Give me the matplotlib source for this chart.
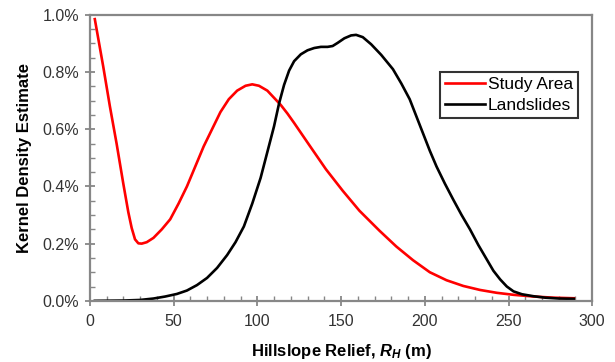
import matplotlib
matplotlib.use("Agg")
import matplotlib.pyplot as plt
from matplotlib.ticker import MultipleLocator, FuncFormatter

plt.rcParams['font.family'] = ['Liberation Sans', 'DejaVu Sans']
plt.rcParams['mathtext.fontset'] = 'custom'
plt.rcParams['mathtext.rm'] = 'Liberation Sans:bold'
plt.rcParams['mathtext.it'] = 'Liberation Sans:bold:italic'
plt.rcParams['mathtext.bf'] = 'Liberation Sans:bold'

# Study Area KDE (x in m, y in %)
study_x = [3, 8, 12, 16, 20, 23, 25, 27, 29, 31, 34, 38, 43, 48, 53, 58, 63, 68, 73, 78,
           83, 88, 93, 97, 101, 106, 110, 114, 118, 122, 131, 141, 151, 161, 173, 183,
           193, 203, 213, 223, 233, 243, 253, 265, 277, 289]
study_y = [0.985, 0.82, 0.68, 0.55, 0.41, 0.31, 0.255, 0.215, 0.201, 0.200, 0.205, 0.22,
           0.25, 0.285, 0.34, 0.40, 0.47, 0.54, 0.60, 0.66, 0.705, 0.735, 0.752, 0.757,
           0.752, 0.735, 0.71, 0.685, 0.655, 0.622, 0.545, 0.46, 0.385, 0.315, 0.245,
           0.19, 0.142, 0.10, 0.072, 0.052, 0.038, 0.028, 0.021, 0.015, 0.011, 0.009]

# Landslides KDE
slide_x = [3, 20, 30, 38, 45, 52, 58, 64, 70, 76, 82, 87, 92, 97, 102, 106, 110, 113, 116,
           119, 122, 126, 130, 134, 138, 142, 145, 148, 152, 156, 159, 163, 168, 174, 181,
           186, 191, 195, 199, 203, 207, 212, 217, 222, 227, 232, 237, 241, 245, 249, 253,
           258, 265, 272, 280, 289]
slide_y = [0.0, 0.001, 0.003, 0.008, 0.015, 0.024, 0.036, 0.055, 0.08, 0.115, 0.16, 0.205,
           0.26, 0.34, 0.43, 0.52, 0.61, 0.69, 0.755, 0.805, 0.838, 0.862, 0.876, 0.884,
           0.888, 0.888, 0.891, 0.902, 0.918, 0.928, 0.930, 0.922, 0.897, 0.86, 0.81, 0.76,
           0.705, 0.645, 0.585, 0.525, 0.47, 0.41, 0.354, 0.30, 0.25, 0.195, 0.145, 0.105,
           0.075, 0.05, 0.033, 0.023, 0.016, 0.011, 0.008, 0.007]

series_labels = ["Study Area", "Landslides"]
x_ticks = [0, 50, 100, 150, 200, 250, 300]
y_ticks = [0.0, 0.2, 0.4, 0.6, 0.8, 1.0]

fig = plt.figure(figsize=(6.15, 3.62), dpi=100)
ax = fig.add_axes([0.146, 0.169, 0.817, 0.790])

ax.plot(study_x, study_y, color='#ff0000', lw=1.9, label=series_labels[0],
        solid_joinstyle='round')
ax.plot(slide_x, slide_y, color='#000000', lw=1.9, label=series_labels[1],
        solid_joinstyle='round')

ax.set_xlim(0, 300)
ax.set_ylim(0, 1.0)
ax.set_xticks(x_ticks)
ax.set_yticks(y_ticks)
ax.xaxis.set_minor_locator(MultipleLocator(10))
ax.yaxis.set_minor_locator(MultipleLocator(0.05))
ax.yaxis.set_major_formatter(FuncFormatter(lambda v, p: f"{v:.1f}%"))

grey = '#878787'
for s in ax.spines.values():
    s.set_color(grey)
    s.set_linewidth(1.6)
ax.tick_params(which='major', direction='inout', length=7, width=1.3, color=grey,
               labelsize=11.5, labelcolor='#333333')
ax.tick_params(axis='x', which='major', pad=6)
ax.tick_params(axis='y', which='major', pad=4)
ax.tick_params(which='minor', direction='in', length=3.5, width=1.0, color=grey)

ax.set_ylabel("Kernel Density Estimate", fontsize=12, fontweight='bold', labelpad=8)
ax.set_xlabel(r"Hillslope Relief, $R_H$ (m)", fontsize=12, fontweight='bold', labelpad=9)

leg = ax.legend(loc='upper right', bbox_to_anchor=(0.972, 0.80), fontsize=12.5,
                frameon=True, fancybox=False, handlelength=2.3, handletextpad=0.15,
                borderpad=0.3, labelspacing=0.3, borderaxespad=0)
leg.get_frame().set_edgecolor('black')
leg.get_frame().set_linewidth(1.5)

fig.savefig("out.png", dpi=100)
